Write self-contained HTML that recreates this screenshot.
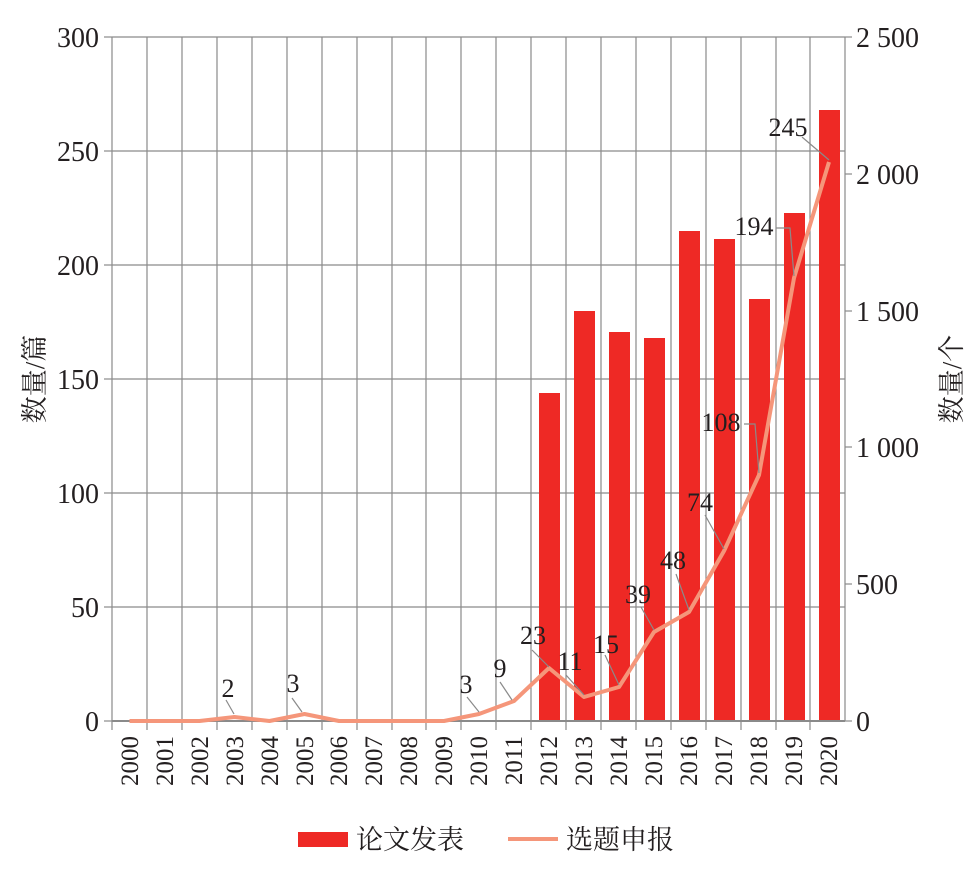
<!DOCTYPE html>
<html><head><meta charset="utf-8"><style>body{margin:0;background:#fff}svg{display:block}text{font-family:"Liberation Serif","Noto Serif CJK SC",serif;fill:#231f20}</style></head><body>
<svg width="979" height="869" viewBox="0 0 979 869">
<g stroke="#8a8a8a" stroke-width="1.2">
<line x1="112" y1="37" x2="845" y2="37"/><line x1="112" y1="151" x2="845" y2="151"/><line x1="112" y1="265" x2="845" y2="265"/><line x1="112" y1="379" x2="845" y2="379"/><line x1="112" y1="493" x2="845" y2="493"/><line x1="112" y1="607" x2="845" y2="607"/>
<line x1="112" y1="37" x2="112" y2="730"/><line x1="147" y1="37" x2="147" y2="730"/><line x1="182" y1="37" x2="182" y2="730"/><line x1="217" y1="37" x2="217" y2="730"/><line x1="252" y1="37" x2="252" y2="730"/><line x1="287" y1="37" x2="287" y2="730"/><line x1="322" y1="37" x2="322" y2="730"/><line x1="357" y1="37" x2="357" y2="730"/><line x1="392" y1="37" x2="392" y2="730"/><line x1="426" y1="37" x2="426" y2="730"/><line x1="461" y1="37" x2="461" y2="730"/><line x1="496" y1="37" x2="496" y2="730"/><line x1="531" y1="37" x2="531" y2="730"/><line x1="566" y1="37" x2="566" y2="730"/><line x1="601" y1="37" x2="601" y2="730"/><line x1="636" y1="37" x2="636" y2="730"/><line x1="671" y1="37" x2="671" y2="730"/><line x1="706" y1="37" x2="706" y2="730"/><line x1="741" y1="37" x2="741" y2="730"/><line x1="776" y1="37" x2="776" y2="730"/><line x1="810" y1="37" x2="810" y2="730"/><line x1="845" y1="37" x2="845" y2="721"/>
<line x1="104" y1="37" x2="112" y2="37"/><line x1="104" y1="151" x2="112" y2="151"/><line x1="104" y1="265" x2="112" y2="265"/><line x1="104" y1="379" x2="112" y2="379"/><line x1="104" y1="493" x2="112" y2="493"/><line x1="104" y1="607" x2="112" y2="607"/><line x1="104" y1="721" x2="112" y2="721"/>
<line x1="845" y1="37" x2="852" y2="37"/><line x1="845" y1="174" x2="852" y2="174"/><line x1="845" y1="311" x2="852" y2="311"/><line x1="845" y1="447" x2="852" y2="447"/><line x1="845" y1="584" x2="852" y2="584"/><line x1="845" y1="721" x2="852" y2="721"/>
</g>
<g fill="#ee2925">
<rect x="539" y="393" width="21" height="328"/><rect x="574" y="311" width="21" height="410"/><rect x="609" y="332" width="21" height="389"/><rect x="644" y="338" width="21" height="383"/><rect x="679" y="231" width="21" height="490"/><rect x="714" y="239" width="21" height="482"/><rect x="749" y="299" width="21" height="422"/><rect x="784" y="213" width="21" height="508"/><rect x="819" y="110" width="21" height="611"/>
</g>
<line x1="112" y1="721" x2="845" y2="721" stroke="#8a8a8a" stroke-width="2"/>
<polyline fill="none" stroke="#f5967a" stroke-width="4" stroke-linejoin="round" points="129.5,721 164.5,721 199.5,721 234.5,717 269.5,721 304.5,714 339,721 374,721 409,721 444,721 479,714 514,701 549,668 584,697 619,687 654,632 689,612 724,551 759,475 794,278 829,162"/>
<g stroke="#8a8a8a" stroke-width="1.2" fill="none">
<polyline points="226,700 234,714"/><polyline points="292,698 302,712"/><polyline points="467,697 479,712"/><polyline points="500,682 512,700"/><polyline points="532,650 549,667"/><polyline points="566,675 584,695"/><polyline points="605,655 619,685"/><polyline points="641,607 654,630"/><polyline points="676,574 689,610"/><polyline points="705,515 724,549"/><polyline points="744,424 755,424 759,473"/><polyline points="776,228 790,228 794,276"/><polyline points="802,137 829,160"/>
</g>
<g font-size="26" text-anchor="middle">
<text x="228" y="697">2</text><text x="293" y="692">3</text><text x="466" y="693">3</text><text x="500" y="677">9</text><text x="533" y="644">23</text><text x="570" y="670">11</text><text x="606" y="653">15</text><text x="638" y="603">39</text><text x="673" y="569">48</text><text x="700" y="511">74</text><text x="721" y="431">108</text><text x="754" y="235">194</text><text x="788" y="136">245</text>
</g>
<g font-size="28" text-anchor="end">
<text x="99" y="47">300</text><text x="99" y="161">250</text><text x="99" y="275">200</text><text x="99" y="389">150</text><text x="99" y="503">100</text><text x="99" y="617">50</text><text x="99" y="731">0</text>
</g>
<g font-size="28">
<text x="856" y="47">2 500</text><text x="856" y="184">2 000</text><text x="856" y="321">1 500</text><text x="856" y="457">1 000</text><text x="856" y="594">500</text><text x="856" y="731">0</text>
</g>
<g font-size="25" text-anchor="end">
<text transform="translate(138,736) rotate(-90)">2000</text><text transform="translate(173,736) rotate(-90)">2001</text><text transform="translate(208,736) rotate(-90)">2002</text><text transform="translate(243,736) rotate(-90)">2003</text><text transform="translate(278,736) rotate(-90)">2004</text><text transform="translate(313,736) rotate(-90)">2005</text><text transform="translate(347,736) rotate(-90)">2006</text><text transform="translate(382,736) rotate(-90)">2007</text><text transform="translate(417,736) rotate(-90)">2008</text><text transform="translate(452,736) rotate(-90)">2009</text><text transform="translate(487,736) rotate(-90)">2010</text><text transform="translate(522,736) rotate(-90)">2011</text><text transform="translate(557,736) rotate(-90)">2012</text><text transform="translate(592,736) rotate(-90)">2013</text><text transform="translate(627,736) rotate(-90)">2014</text><text transform="translate(662,736) rotate(-90)">2015</text><text transform="translate(697,736) rotate(-90)">2016</text><text transform="translate(732,736) rotate(-90)">2017</text><text transform="translate(767,736) rotate(-90)">2018</text><text transform="translate(802,736) rotate(-90)">2019</text><text transform="translate(837,736) rotate(-90)">2020</text>
</g>
<text font-size="27" text-anchor="middle" transform="translate(44,379) rotate(-90)">数量/篇</text>
<text font-size="27" text-anchor="middle" transform="translate(961,379) rotate(-90)">数量/个</text>
<rect x="298" y="832" width="50" height="15" fill="#ee2925"/>
<text x="356" y="849" font-size="27">论文发表</text>
<line x1="508" y1="839" x2="558" y2="839" stroke="#f5967a" stroke-width="4"/>
<text x="566" y="849" font-size="27">选题申报</text>
</svg>
</body></html>
